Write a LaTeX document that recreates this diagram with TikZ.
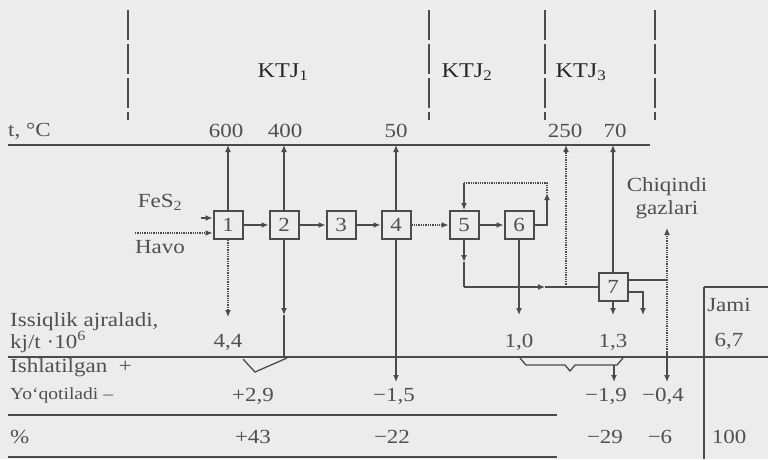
\documentclass[tikz,border=0pt]{standalone}
\usepackage{fontspec}
\setmainfont[FakeStretch=1.15]{Liberation Serif}
\usetikzlibrary{arrows.meta}
\usetikzlibrary{positioning}

\definecolor{ink}{RGB}{75,75,75}
\definecolor{paper}{RGB}{236,236,236}
\definecolor{txt}{RGB}{80,80,80}

\tikzset{
  stage/.style={rectangle,draw=ink,line width=2pt,minimum width=29pt,minimum height=28pt,inner sep=0pt,text=txt,font=\fontsize{20}{22}\selectfont},
  flow/.style={draw=ink,line width=1.3pt},
  arr/.style={flow,-{Latex[length=7pt,width=6pt]}},
  rule/.style={draw=ink,line width=2.2pt},
  zone/.style={draw=ink,line width=1.3pt,dash pattern=on 30pt off 4pt},
  lbl/.style={text=txt,inner sep=0pt,font=\fontsize{20}{23}\selectfont},
  zonelbl/.style={text=black!85,inner sep=0pt,font=\fontsize{21}{23}\selectfont},
}

\begin{document}
\begin{tikzpicture}[x=1pt,y=-1pt]
\fill[paper] (0,0) rectangle (768,459);
\useasboundingbox (0,0) rectangle (768,459);

% zones
\draw[zone] (128,10) -- (128,120);
\draw[zone] (429,10) -- (429,120);
\draw[zone] (545,10) -- (545,120);
\draw[zone] (655,10) -- (655,120);
\node[zonelbl] (ktj1) at (283,72) {KTJ\textsubscript{1}};
\node[zonelbl] (ktj2) at (467,72) {KTJ\textsubscript{2}};
\node[zonelbl] (ktj3) at (581,72) {KTJ\textsubscript{3}};

% temperature line
\draw[rule] (8,145) -- (650,145);
\node[lbl,anchor=west] (tC) at (8,131) {t, °C};
\coordinate (t600) at (228,145);
\coordinate (t400) at (284,145);
\coordinate (t50) at (396,145);
\coordinate (t250) at (566,145);
\coordinate (t70) at (613,145);
\node[lbl] (l600) at (226,131) {600};
\node[lbl] (l400) at (285,131) {400};
\node[lbl] (l50) at (396,131) {50};
\node[lbl] (l250) at (565,131) {250};
\node[lbl] (l70) at (615,131) {70};

% stages
\node[stage] (b1) at (228,225) {1};
\node[stage] (b2) at (284,225) {2};
\node[stage] (b3) at (341,225) {3};
\node[stage] (b4) at (396,225) {4};
\node[stage] (b5) at (464,225) {5};
\node[stage] (b6) at (519,225) {6};
\node[stage] (b7) at (613,287) {7};

% feed
\node[lbl] (fes) at (160,202) {FeS\textsubscript{2}};
\node[lbl] (havo) at (160,247) {Havo};
\coordinate (fesIn) at (201,218);
\coordinate (havoIn) at (135,233);
\draw[arr] (fesIn) -- ([yshift=7pt]b1.west);
\draw[arr,densely dotted] (havoIn) -- ([yshift=-8pt]b1.west);

\draw[arr] (b1) -- (b2);
\draw[arr] (b2) -- (b3);
\draw[arr] (b3) -- (b4);
\draw[arr,densely dotted] (b4) -- (b5);
\draw[arr] (b5) -- (b6);

% recycle 6 -> 5
\coordinate (loopR) at (547,183);
\coordinate (loopL) at (464,183);
\draw[arr] (b6.east) -| ([yshift=-10pt]loopR);
\draw[flow,densely dotted] ([yshift=-10pt]loopR) -- (loopR) -- (loopL);
\draw[arr] (loopL) -- (b5.north);

% 5 -> 7
\coordinate (m5) at (464,262);
\coordinate (j5) at (464,287);
\coordinate (jm) at (545,287);
\coordinate (j250) at (566,287);
\draw[arr] (b5.south) -- (m5);
\draw[flow] (m5) -- (j5);
\draw[arr] (j5) -- (jm);
\draw[flow] (jm) -- (b7.west);
\draw[arr,densely dotted] (j250) -- (t250);

% heat up to the temperature line
\draw[arr] (b1.north) -- (t600);
\draw[arr] (b2.north) -- (t400);
\draw[arr] (b4.north) -- (t50);
\draw[arr] (b7.north) -- (t70);

% heat down
\coordinate (q1) at (228,317);
\coordinate (m2) at (284,315);
\coordinate (e2) at (284,357);
\coordinate (q4) at (396,382);
\coordinate (q6) at (519,315);
\coordinate (q7) at (613,315);
\coordinate (q7b) at (643,315);
\draw[arr,densely dotted] (b1.south) -- (q1);
\draw[arr] (b2.south) -- (m2);
\draw[flow] (m2) -- (e2);
\draw[arr] (b4.south) -- (q4);
\draw[arr] (b6.south) -- (q6);
\draw[arr] (b7.south) -- (q7);
\draw[arr] ([yshift=-5pt]b7.east) -| (q7b);

% waste gas
\coordinate (gasJ) at (667,280);
\coordinate (gasTop) at (667,228);
\coordinate (gasBot) at (667,352);
\coordinate (q04) at (667,382);
\draw[flow] ([yshift=7pt]b7.east) -- (gasJ);
\draw[arr,densely dotted] (gasBot) -- (gasTop);
\draw[arr] (gasBot) -- (q04);
\node[lbl,align=center] (gas) at (667,198) {Chiqindi\\gazlari};

% braces
\draw[flow] (243,359) -- (255,372) -- (287,358);
\draw[flow] (520,358) -- (526,365) -- (565,365) -- (570,371) -- (575,365) -- (617,365) -- (623,358);
\coordinate (brR) at (614,365);
\coordinate (q19) at (614,382);
\draw[arr] (brR) -- (q19);

% table rules
\draw[rule] (8,357) -- (768,357);
\draw[rule] (8,415) -- (557,415);
\draw[rule] (8,457) -- (557,457);
\draw[rule] (704,287) -- (704,459);
\draw[rule] (704,287) -- (768,287);

% row labels
\node[lbl,anchor=west] (heat1) at (10,322) {Issiqlik ajraladi,};
\node[lbl,anchor=west] (heat2) at (10,342) {kj/t ·10\textsuperscript{6}};
\node[lbl,anchor=west] (used) at (10,368) {Ishlatilgan \ +};
\node[lbl,anchor=west,font=\fontsize{17}{19}\selectfont] (lost) at (10,395) {Yo‘qotiladi –};
\node[lbl,anchor=west] (pct) at (10,437) {\%};

% values
\node[lbl] (v44) at (228,342) {4,4};
\node[lbl] (v10) at (519,342) {1,0};
\node[lbl] (v13) at (613,342) {1,3};
\node[lbl] (jami) at (729,305) {Jami};
\node[lbl] (v67) at (729,341) {6,7};
\node[lbl] (v29) at (253,396) {+2,9};
\node[lbl] (v15) at (394,396) {−1,5};
\node[lbl] (v19) at (606,396) {−1,9};
\node[lbl] (v04) at (663,396) {−0,4};
\node[lbl] (p43) at (253,437) {+43};
\node[lbl] (p22) at (392,437) {−22};
\node[lbl] (p29) at (605,437) {−29};
\node[lbl] (p6) at (660,437) {−6};
\node[lbl] (p100) at (729,437) {100};
\end{tikzpicture}
\end{document}
